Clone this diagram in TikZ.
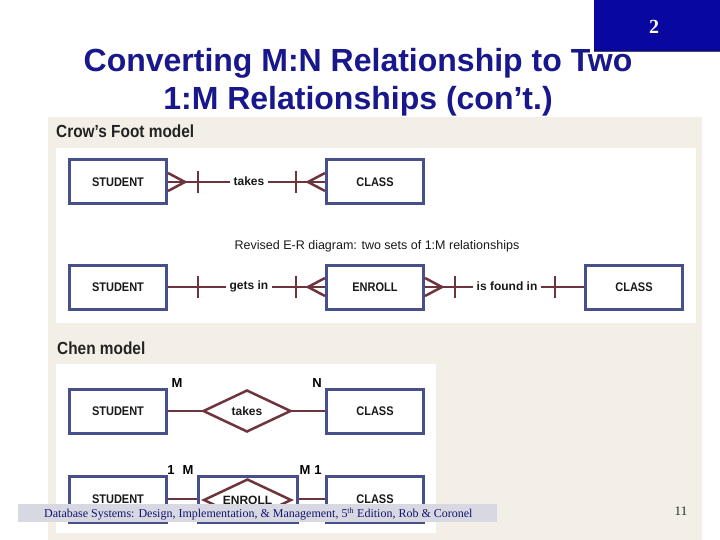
\documentclass[tikz,border=0pt]{standalone}
\usepackage{fontspec}
\setmainfont{Liberation Sans}
\newfontfamily\seriffont{Liberation Serif}
\newfontfamily\diagfont[FakeStretch=0.88]{Liberation Sans}
\usetikzlibrary{shapes.geometric,calc}
\definecolor{slideblue}{RGB}{8,8,160}
\definecolor{titleblue}{RGB}{24,24,140}
\definecolor{beige}{RGB}{243,239,230}
\definecolor{boxblue}{RGB}{72,80,140}
\definecolor{relline}{RGB}{110,52,62}
\definecolor{footgray}{RGB}{216,216,226}
\definecolor{footblue}{RGB}{20,20,110}
\definecolor{headgray}{RGB}{35,35,35}
\tikzset{
  entity/.style={draw=boxblue, line width=3pt, fill=white, minimum width=97pt,
    minimum height=44pt, inner sep=0pt, text=black!90, font=\diagfont\bfseries\fontsize{12.5}{13}\selectfont},
  rel/.style={draw=relline, line width=2.5pt},
  rlabel/.style={inner sep=3pt, text=black!90, font=\bfseries\fontsize{12}{13}\selectfont},
  chenrel/.style={diamond, aspect=2, draw=relline, line width=2.5pt, fill=white, inner sep=0pt,
    minimum width=88pt, minimum height=42pt, text=black!90, font=\bfseries\fontsize{12}{13}\selectfont},
  card/.style={inner sep=0pt, text=black, font=\bfseries\fontsize{13}{13}\selectfont},
  heading/.style={anchor=west, inner sep=0pt, text=headgray, font=\bfseries\diagfont\fontsize{17.5}{18}\selectfont},
  titletext/.style={text=titleblue, inner sep=0pt, font=\bfseries\fontsize{32}{33}\selectfont}
}
\begin{document}
\begin{tikzpicture}[x=1pt,y=-1pt]
\useasboundingbox (0,0) rectangle (720,540);
\fill[white] (0,0) rectangle (720,540);
% slide number box
\fill[slideblue] (594,0) rectangle (720,52);
\draw[black!70, line width=1pt] (594,52) -- (720,52);
\node[text=white, font=\seriffont\bfseries\fontsize{20}{20}\selectfont] (num) at (654,27) {2};
% title
\node[titletext] (t1) at (358,63) {Converting M:N Relationship to Two};
\node[titletext] (t2) at (358,101) {1:M Relationships (con’t.)};
% panels
\fill[beige] (48,117) rectangle (702,540);
\fill[white] (56,148) rectangle (696,323);
\fill[white] (56,364) rectangle (436,533);
\node[heading] (h1) at (56,131) {Crow’s Foot model};
\node[heading] (h2) at (57,348) {Chen model};
% ---- Crow's foot row 1
\node[entity] (s1) at (118,182) {STUDENT};
\node[entity] (c1) at (375,182) {CLASS};
\node[rlabel] (l1) at (249,181) {takes};
\draw[rel] (s1.east) -- (l1.west |- s1.east);
\draw[rel] (l1.east |- c1.west) -- (c1.west);
\draw[rel] ($(s1.east)+(0,-9)$) -- ($(s1.east)+(17,0)$) -- ($(s1.east)+(0,9)$);
\draw[rel] ($(s1.east)+(30,-11)$) -- ($(s1.east)+(30,11)$);
\draw[rel] ($(c1.west)+(0,-9)$) -- ($(c1.west)+(-17,0)$) -- ($(c1.west)+(0,9)$);
\draw[rel] ($(c1.west)+(-29,-11)$) -- ($(c1.west)+(-29,11)$);
% revised caption
\node[inner sep=0pt, text=black!90, font=\fontsize{12.5}{13}\selectfont] (rev) at (377,246) {Revised E-R diagram: two sets of 1:M relationships};
% ---- Crow's foot row 2
\node[entity] (s2) at (118,287) {STUDENT};
\node[entity] (e2) at (375,287) {ENROLL};
\node[entity] (c2) at (634,287) {CLASS};
\node[rlabel] (l2) at (249,286) {gets in};
\node[rlabel] (l3) at (507,286) {is found in};
\draw[rel] (s2.east) -- (l2.west |- s2.east);
\draw[rel] (l2.east |- e2.west) -- (e2.west);
\draw[rel] (e2.east) -- (l3.west |- e2.east);
\draw[rel] (l3.east |- c2.west) -- (c2.west);
\draw[rel] ($(s2.east)+(30,-11)$) -- ($(s2.east)+(30,11)$);
\draw[rel] ($(e2.west)+(0,-9)$) -- ($(e2.west)+(-17,0)$) -- ($(e2.west)+(0,9)$);
\draw[rel] ($(e2.west)+(-29,-11)$) -- ($(e2.west)+(-29,11)$);
\draw[rel] ($(e2.east)+(0,-9)$) -- ($(e2.east)+(17,0)$) -- ($(e2.east)+(0,9)$);
\draw[rel] ($(e2.east)+(30,-11)$) -- ($(e2.east)+(30,11)$);
\draw[rel] ($(c2.west)+(-29,-11)$) -- ($(c2.west)+(-29,11)$);
% ---- Chen row 1
\node[entity] (s3) at (118,411) {STUDENT};
\node[entity] (c3) at (375,411) {CLASS};
\node[chenrel] (d3) at (247,411) {takes};
\draw[rel] (s3.east) -- (d3.west);
\draw[rel] (d3.east) -- (c3.west);
\node[card] (m3) at (177,383) {M};
\node[card] (n3) at (317,383) {N};
% ---- Chen row 2
\node[entity, minimum height=46pt] (s4) at (118,499) {STUDENT};
\node[entity, minimum height=46pt] (c4) at (375,499) {CLASS};
\node[entity, minimum height=46pt, minimum width=99pt] (e4) at (247.5,499) {};
\node[chenrel, minimum height=42pt, minimum width=88pt] (d4) at (247.5,500) {ENROLL};
\draw[rel] (s4.east) -- (e4.west);
\draw[rel] (e4.east) -- (c4.west);
\node[card] (o4a) at (171,470) {1};
\node[card] (m4a) at (188,470) {M};
\node[card] (m4b) at (305,470) {M};
\node[card] (o4b) at (318,470) {1};
% ---- footer
\fill[footgray] (18,504) rectangle (497,522);
\node[anchor=west, inner sep=0pt, text=footblue, font=\seriffont\fontsize{12}{12}\selectfont] (foot) at (44,514) {Database Systems: Design, Implementation, \& Management, 5\textsuperscript{th} Edition, Rob \& Coronel};
\node[text=black!85, font=\seriffont\fontsize{13}{13}\selectfont] (page) at (681,511) {11};
\end{tikzpicture}
\end{document}
